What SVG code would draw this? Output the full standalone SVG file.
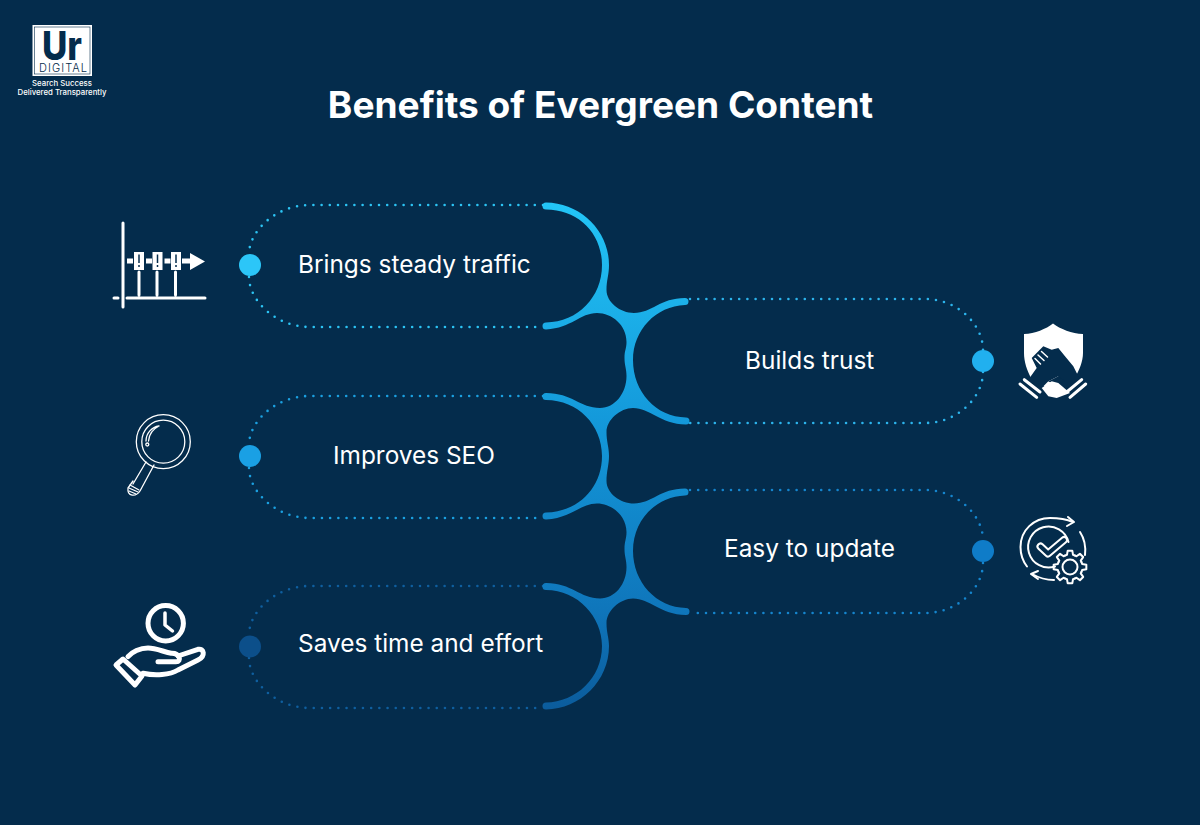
<svg xmlns="http://www.w3.org/2000/svg" width="1200" height="825" viewBox="0 0 1200 825">
<style>
text{font-family:Inter,"Liberation Sans",sans-serif;fill:#fff}
.lbl{font-size:24.400px;font-weight:400}
.dots{fill:none;stroke-width:2.600;stroke-linecap:round;stroke-dasharray:0 8.200}
.w{fill:none;stroke:#fff;stroke-linecap:round;stroke-linejoin:round}
</style>
<defs>
<linearGradient id="g" gradientUnits="userSpaceOnUse" x1="0" y1="200" x2="0" y2="712">
<stop offset="0" stop-color="#23c6f7"/><stop offset=".45" stop-color="#1397d9"/><stop offset=".8" stop-color="#0f76bb"/><stop offset="1" stop-color="#0b5b9b"/>
</linearGradient>
<path id="tooth" d="M-4.780-11.550-3.020-12.130-2.300-16.340 2.300-16.340 3.020-12.130 4.780-11.550"/>
</defs>
<rect width="1200" height="825" fill="#042c4c"/>
<g id="logo">
<rect x="32.500" y="25" width="59.500" height="51" fill="#fff"/>
<rect x="34.500" y="27" width="55.500" height="47" fill="none" stroke="#042c4c" stroke-width=".6"/>
<text x="62" y="59.500" text-anchor="middle" style="fill:#042c4c;font-size:40px;font-weight:800" textLength="40" lengthAdjust="spacingAndGlyphs">Ur</text>
<text x="63" y="72" text-anchor="middle" style="fill:#042c4c;font-size:11px;font-weight:300" textLength="48" lengthAdjust="spacing">DIGITAL</text>
<text x="62" y="86" text-anchor="middle" style="font-size:7.800px;font-weight:500">Search Success</text>
<text x="62" y="95" text-anchor="middle" style="font-size:7.800px;font-weight:500">Delivered Transparently</text>
</g>
<text id="title" x="600.500" y="118" text-anchor="middle" style="font-size:37.100px;font-weight:700">Benefits of Evergreen Content</text>
<g id="connectors">
<path class="dots" stroke="#2cc4f4" d="M543 205H310C275 205 249 232 249 254M249 277C249 300 275 327 310 327H543"/>
<path class="dots" stroke="#2cb4ec" d="M690 299H925C958 299 983 325 983 350M983 372C983 397 958 423 925 423H690"/>
<path class="dots" stroke="#1ba0e0" d="M543 396H310C275 396 249 422 249 445M249 468C249 491 275 518 310 518H543"/>
<path class="dots" stroke="#1585cd" d="M690 490H925C958 490 983 516 983 540M983 563C983 588 958 613 925 613H690"/>
<path class="dots" stroke="#0f5f9f" d="M543 586H310C275 586 249 612 249 635M249 658C249 681 275 708 310 708H543"/>
<path id="spine" fill="url(#g)" d="M546 202.500C580 203 609 230 609 265C609 275 606.500 280 606.500 290C606.500 302 620 313 634 313C652 313 660 298 685 298A3.500 3.500 0 0 1 685 305C656 306 633 330 633 360C633 392 656 417 686 417.500A3.500 3.500 0 0 1 686 424.500C660 424 650 408 633 408C620 408 606.500 420 606.500 432C606.500 442 609 447 609 456C609 465 606.500 471 606.500 481C606.500 493 620 503.500 634 503.500C652 503.500 660 488.500 685 488.500A3.500 3.500 0 0 1 685 495.500C656 496.500 633 520 633 551C633 582 656 607.500 686 608A3.500 3.500 0 0 1 686 615C660 614.500 650 598.500 633 598.500C620 598.500 606.500 611 606.500 623C606.500 633 609 638 609 646C609 681 580 709 546 709.500A3.500 3.500 0 0 1 546 702.500C576 702 602 678 602 646C602 617 578 590 546 590A3.500 3.500 0 0 1 546 583C572 583 580 598.500 600 598.500C615 598.500 626.500 584 626.500 567C626.500 559 624.500 557 624.500 549C624.500 541 626.500 539 626.500 532C626.500 516 612 503.500 597 503.500C580 503.500 572 518 546 519.500A3.500 3.500 0 0 1 546 512.500C578 512 602 488 602 456C602 425 578 400 546 400A3.500 3.500 0 0 1 546 393C572 393 580 408 600 408C615 408 626.500 393 626.500 376C626.500 368 624.500 366 624.500 358C624.500 350 626.500 349 626.500 342C626.500 325 612 313 597 313C580 313 572 328 546 329.500A3.500 3.500 0 0 1 546 322.500C578 322 602 297 602 265C602 233 578 209.500 546 209.500A3.500 3.500 0 0 1 546 202.500Z"/>
</g>
<g id="node-traffic">
<circle cx="250" cy="265" r="11" fill="#2cc6f8"/>
<text class="lbl" x="298" y="273">Brings steady traffic</text>
<g id="icon-chart" class="w">
<path stroke-width="3" d="M123 223V307M114 298H118M127 298H205M139 272V295M157 272V295M175.500 272V295"/>
<path stroke-width="5" stroke-linecap="butt" d="M127 261H133M146 261H152M164.500 261H170.500M182 261H191"/>
<path fill="#fff" stroke="none" d="M190 253L205 261.500 190 270ZM134 252H144V270H134ZM152.500 252H162.500V270H152.500ZM171 252H181V270H171Z"/>
<path stroke="#042c4c" stroke-width="1.500" stroke-linecap="butt" d="M139 254.500V263M139 265V267M157.500 254.500V263M157.500 265V267M176 254.500V263M176 265V267"/>
</g>
</g>
<g id="node-trust">
<circle cx="983" cy="361" r="11" fill="#21b0ef"/>
<text class="lbl" x="745" y="369">Builds trust</text>
<g id="icon-shield">
<path fill="#fff" d="M1053 323.500C1060 329 1072 333.500 1083 334V353C1083 362 1079 370 1075 378L1053 392 1031 378C1027 370 1024 362 1024 353V334C1035 333.500 1046 329 1053 323.500Z"/>
<path fill="#042c4c" d="M1028.300 379.700L1036.700 368 1031.700 358 1043.300 346.300 1051.700 349.700 1058.300 348 1065 356.300 1073.300 366.300 1076.700 373 1081.700 383 1070 393 1056.700 383 1058.300 376.300 1048.300 381.300 1040 389.700 1030 383Z"/>
<path fill="#042c4c" d="M1058.300 376.300L1065 381.300 1056.700 384 1048 381.500Z"/>
<path fill="#fff" d="M1041.700 388L1051.700 381.300 1058.300 383 1070 393 1056.700 398 1048.300 396.300Z"/>
<path class="w" stroke-width="1.500" stroke-linecap="butt" d="M1035 358.500L1040.500 364M1038 355L1044 360.500M1041.500 351.500L1047.500 357"/>
<path class="w" stroke-width="3" stroke-linecap="butt" d="M1020 384L1036.700 397.300M1024.300 379.700L1040 392M1085.700 384L1070 397.300M1081.700 379.700L1066.700 392"/>
</g>
</g>
<g id="node-seo">
<circle cx="250" cy="456" r="11" fill="#1aa0e4"/>
<text class="lbl" x="333" y="464">Improves SEO</text>
<g id="icon-magnifier" class="w" stroke-width="1.300">
<circle cx="163.300" cy="441.700" r="27"/>
<circle cx="163.300" cy="441.700" r="21.500"/>
<path d="M159 426C152 427 146 433 146 441M159 426C153 429 149 435 148.500 441"/>
<circle cx="147.300" cy="444.500" r="1.500"/>
<path d="M146 462L133 484M154 465L140 491C136 497 127 497 128 488L133 481"/>
<path d="M130 485L139 490M129 488L138 492M129 491L136 494"/>
</g>
</g>
<g id="node-update">
<circle cx="983" cy="551" r="11" fill="#0f7cc8"/>
<text class="lbl" x="724" y="557">Easy to update</text>
<g id="icon-gear">
<g class="w" stroke-width="2">
<path d="M1027 566.500C1022 560 1020.500 553 1020.500 547C1020.500 530 1034 518 1050 518C1058 518 1066 519 1073 522"/>
<path d="M1068 517L1074 522 1067 526"/>
<path d="M1080 532C1084 538 1086 546 1085 555"/>
<path d="M1054 580C1046 580 1039 578 1032 574"/>
<path d="M1038 571L1031 574 1038 579"/>
<path d="M1055 566.500A20.500 20.500 0 1 1 1068.500 542"/>
</g>
<path class="w" stroke-width="8" d="M1040.500 546.500L1048 553.500 1064 540"/>
<path fill="none" stroke="#042c4c" stroke-width="4" stroke-linecap="round" stroke-linejoin="round" d="M1040.500 546.500L1048 553.500 1064 540"/>
<g transform="translate(1070 567)">
<circle r="13.500" fill="#042c4c"/>
<g class="w" stroke-width="2">
<use href="#tooth"/><use href="#tooth" transform="rotate(45)"/><use href="#tooth" transform="rotate(90)"/><use href="#tooth" transform="rotate(135)"/><use href="#tooth" transform="rotate(180)"/><use href="#tooth" transform="rotate(225)"/><use href="#tooth" transform="rotate(270)"/><use href="#tooth" transform="rotate(315)"/>
<circle r="7.500"/>
</g>
</g>
</g>
</g>
<g id="node-time">
<circle cx="250" cy="646.500" r="11" fill="#0c4f8a"/>
<text class="lbl" x="298" y="652">Saves time and effort</text>
<g id="icon-hand" class="w" stroke-width="5">
<circle cx="165.700" cy="623.300" r="17.700"/>
<path stroke-width="3.500" d="M165 613V625L172.500 631"/>
<path d="M116 665L123 659 142 676 135 685Z"/>
<path d="M128 656.700C132 652 140 648 148 648C156 648 164 652 171.300 653.300C180 653 182 661.700 176 661.700H158"/>
<path d="M178 656L198 649.300C204 648 206 656 198 660L178 670C170 675 155 676 143 673.300"/>
</g>
</g>
</svg>
